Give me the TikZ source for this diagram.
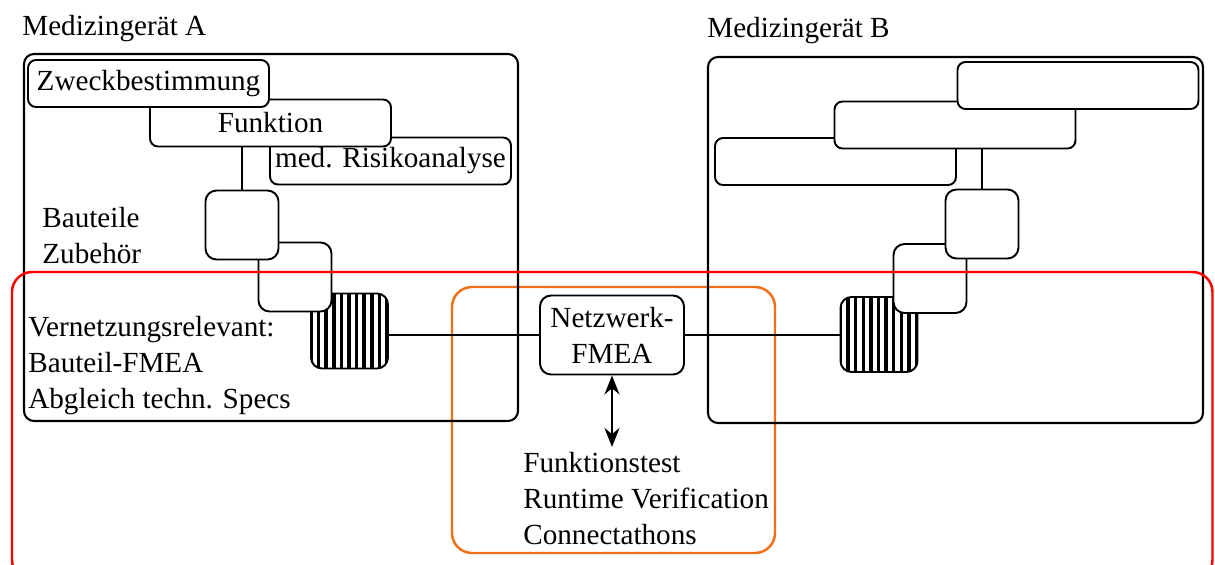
\documentclass[tikz,border=0pt]{standalone}
\usepackage{fontspec}
\setmainfont{Liberation Serif}
\usepackage{xcolor}
\usepackage{tikz}
\usetikzlibrary{arrows.meta}
\definecolor{vernetzred}{RGB}{255,0,0}
\definecolor{testorange}{RGB}{240,110,20}

\begin{document}
\begin{tikzpicture}[x=0.02cm, y=-0.02cm,
  every node/.style={font=\fontsize{16.6}{20.5}\selectfont},
  txtbox/.style={draw, fill=white, rounded corners=0.16cm, line width=1.1pt, minimum width=4.82cm, minimum height=0.94cm, inner sep=0pt},
  klbox/.style={draw, fill=white, rounded corners=0.22cm, line width=1.1pt, minimum width=1.46cm, minimum height=1.38cm, inner sep=0pt},
  hatchbox/.style={draw, rounded corners=0.22cm, line width=1.1pt, minimum width=1.54cm, minimum height=1.5cm, inner sep=0pt,
    path picture={\foreach \k in {0,...,10} \draw[line width=2pt] ([xshift=\k*0.152cm]path picture bounding box.south west) -- ([xshift=\k*0.152cm]path picture bounding box.north west);}},
  txtblock/.style={anchor=north west, align=left, inner sep=0pt},
  link/.style={line width=1.1pt}]
\useasboundingbox (0,0) rectangle (1215,565);
\draw[testorange, line width=1.4pt, rounded corners=0.4cm] (452,287) rectangle (775,553);
\draw[rounded corners=0.2cm, line width=1.2pt] (24,54) rectangle (518,421);
\draw[rounded corners=0.2cm, line width=1.2pt] (708,57) rectangle (1203,423);
\node[anchor=base west, inner sep=0pt] (titleA) at (22,35) {Medizingerät A};
\node[anchor=base west, inner sep=0pt] (titleB) at (707,37) {Medizingerät B};
\node[txtbox] (riskA) at (390.5,161) {med. Risikoanalyse};
\node[txtbox] (funkA) at (270.5,123) {Funktion};
\node[txtbox] (zweckA) at (148.5,83.5) {Zweckbestimmung};
\node[hatchbox] (hatchA) at (349.5,331) {};
\node[klbox] (teilA2) at (295,277) {};
\node[klbox] (teilA1) at (242,225) {};
\node[txtblock] (bauA) at (42,207) {Bauteile\\Zubehör};
\node[txtblock] (vernA) at (28,316) {Vernetzungsrelevant:\\Bauteil-FMEA\\Abgleich techn. Specs};
\node[txtbox] (leftB) at (835.5,161.5) {};
\node[txtbox] (midB) at (955,125) {};
\node[txtbox] (topB) at (1078,85.5) {};
\node[hatchbox] (hatchB) at (879,334.5) {};
\node[klbox] (teilB2) at (930,278.5) {};
\node[klbox] (teilB1) at (982,224) {};
\node[draw, fill=white, rounded corners=0.22cm, line width=1.1pt, minimum width=2.88cm, minimum height=1.58cm, inner sep=0pt, align=center] (netz) at (612,335) {Netzwerk-\\FMEA};
\node[txtblock, inner ysep=0.1cm] (tests) at (523,447) {Funktionstest\\Runtime Verification\\Connectathons};
\draw[link] (teilA1.north) -- (teilA1.north |- funkA.south);
\draw[link] (teilB1.north) -- (teilB1.north |- midB.south);
\draw[link] (hatchA.east |- netz.west) -- (netz.west);
\draw[link] (netz.east) -- (netz.east -| hatchB.west);
\draw[line width=1.3pt, {Stealth[length=0.38cm,width=0.3cm]}-{Stealth[length=0.38cm,width=0.3cm]}] (netz.south) -- (netz.south |- tests.north);
\draw[vernetzred, line width=1.4pt, rounded corners=0.4cm] (12,272) rectangle (1212.5,580);
\end{tikzpicture}
\end{document}
